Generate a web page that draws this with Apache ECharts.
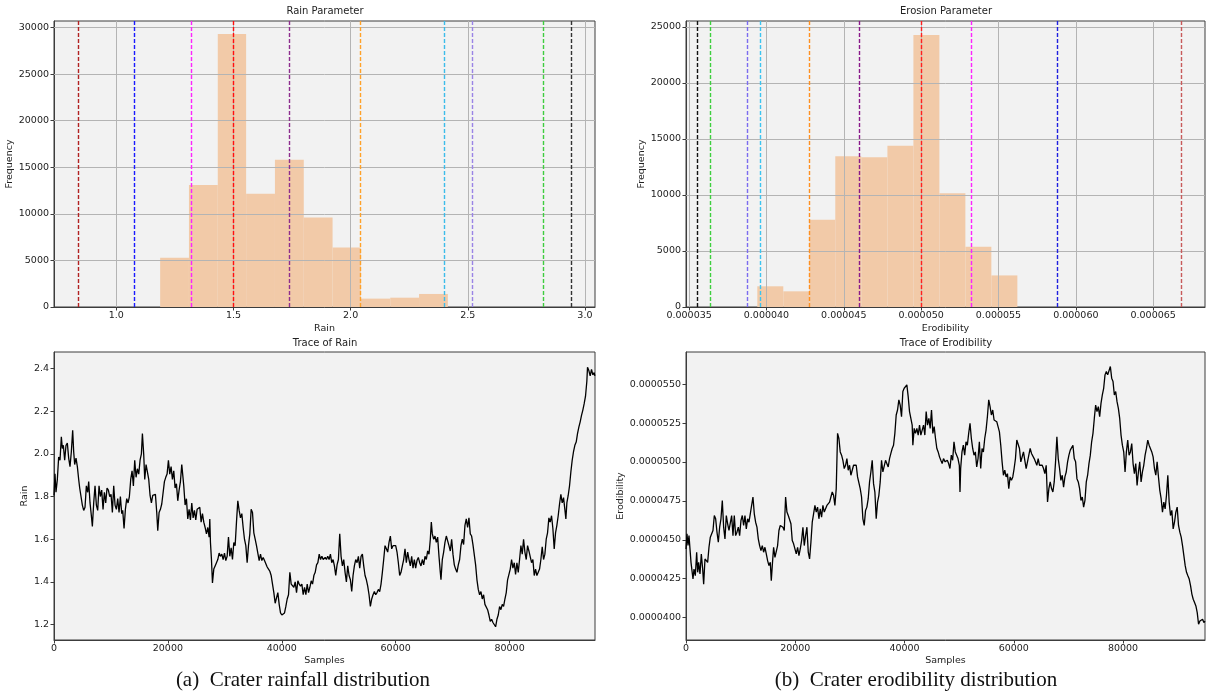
<!DOCTYPE html>
<html>
<head>
<meta charset="utf-8">
<title>Crater rainfall and erodibility distributions</title>
<script src="https://cdn.jsdelivr.net/npm/echarts@6/dist/echarts.min.js"></script>
<style>
  html, body { margin: 0; padding: 0; background: #ffffff; }
  #chart { width: 1206px; height: 698px; }
</style>
</head>
<body>
<div id="chart"></div>
<script>
// ---------------- Histogram data ----------------
const rainBinEdges = [1.187, 1.310, 1.433, 1.554, 1.677, 1.800, 1.923, 2.044, 2.169, 2.292, 2.415];
const rainCounts = [5300, 13100, 29300, 12150, 15800, 9600, 6400, 900, 1000, 1400];
const rainMarkers = [0.838, 1.078, 1.320, 1.500, 1.740, 2.040, 2.401, 2.520, 2.823, 2.942];
const rainMarkerColors = ['#b22222', '#1a1aff', '#ff22ff', '#ff1010', '#8e2e8e', '#ffa229', '#3cbcea', '#9a84e6', '#3fcc3f', '#333333'];

const erosionBinEdges = [3.941e-5, 4.109e-5, 4.277e-5, 4.445e-5, 4.613e-5, 4.782e-5, 4.950e-5, 5.118e-5, 5.286e-5, 5.454e-5, 5.622e-5];
const erosionCounts = [1850, 1400, 7800, 13450, 13360, 14400, 24290, 10150, 5370, 2820];
const erosionMarkers = [3.555e-5, 3.637e-5, 3.878e-5, 3.957e-5, 4.277e-5, 4.599e-5, 4.999e-5, 5.321e-5, 5.881e-5, 6.684e-5];
const erosionMarkerColors = ['#111111', '#3fcf3f', '#7c6cf0', '#3cc4f0', '#ff9020', '#8a1a8a', '#ff2020', '#ff22ff', '#2020e0', '#c85a5a'];

// ---------------- Tick labels ----------------
const rainTicks = [1.0, 1.5, 2.0, 2.5, 3.0];
const rainFreqTicks = [0, 5000, 10000, 15000, 20000, 25000, 30000];
const erosionTicks = [0.000035, 0.000040, 0.000045, 0.000050, 0.000055, 0.000060, 0.000065];
const erosionFreqTicks = [0, 5000, 10000, 15000, 20000, 25000];
const sampleTicks = [0, 20000, 40000, 60000, 80000];
const rainTraceTicks = [1.2, 1.4, 1.6, 1.8, 2.0, 2.2, 2.4];
const erodTraceTicks = [0.0000400, 0.0000425, 0.0000450, 0.0000475, 0.0000500, 0.0000525, 0.0000550];

// ---------------- Trace data: [sample, value] ----------------
const rainTrace = [
[0,1.805],[176,1.907],[351,1.82],[586,1.88],[820,1.985],[1054,1.97],[1289,2.08],[1465,2.025],[1640,2.04],[1875,1.97],
[2109,2.04],[2343,2.05],[2578,1.98],[2812,1.94],[3046,2.01],[3280,2.11],[3456,2.01],[3632,1.95],[3866,1.98],[4101,1.94],
[4335,1.88],[4511,1.84],[4745,1.845],[4979,1.76],[5214,1.735],[5448,1.75],[5682,1.85],[5917,1.82],[6092,1.87],[6327,1.77],
[6561,1.71],[6737,1.66],[6971,1.77],[7205,1.85],[7440,1.76],[7674,1.735],[7908,1.85],[8143,1.80],[8377,1.83],[8611,1.74],
[8846,1.82],[9080,1.77],[9314,1.84],[9549,1.83],[9783,1.80],[10017,1.81],[10252,1.725],[10486,1.85],[10720,1.76],[10954,1.74],
[11189,1.79],[11423,1.725],[11657,1.80],[11892,1.72],[12067,1.735],[12302,1.65],[12536,1.74],[12770,1.79],[13005,1.77],[13239,1.80],
[13473,1.88],[13708,1.92],[13942,1.85],[14176,1.97],[14411,1.89],[14645,1.93],[14879,1.905],[15114,1.97],[15348,2.00],[15524,2.095],
[15758,1.995],[15934,1.88],[16168,1.95],[16402,1.915],[16637,1.88],[16871,1.805],[17105,1.77],[17340,1.805],[17574,1.80],[17808,1.81],
[18043,1.725],[18218,1.64],[18453,1.725],[18687,1.74],[18921,1.765],[19156,1.77],[19390,1.87],[19624,1.89],[19859,1.905],[20093,1.97],
[20327,1.905],[20562,1.94],[20796,1.88],[21030,1.92],[21265,1.84],[21499,1.86],[21733,1.78],[21968,1.83],[22202,1.87],[22436,1.95],
[22670,1.95],[22788,1.85],[23022,1.76],[23256,1.79],[23491,1.695],[23725,1.74],[23959,1.69],[24194,1.77],[24428,1.70],[24662,1.735],
[24897,1.69],[25131,1.74],[25365,1.735],[25600,1.75],[25834,1.68],[26068,1.72],[26303,1.68],[26537,1.655],[26771,1.625],[27006,1.655],
[27240,1.61],[27357,1.695],[27474,1.585],[27650,1.505],[27826,1.395],[28060,1.46],[28294,1.475],[28529,1.49],[28763,1.505],[28997,1.535],
[29232,1.52],[29466,1.53],[29700,1.505],[29935,1.535],[30169,1.50],[30403,1.52],[30638,1.61],[30872,1.52],[31106,1.56],[31340,1.505],
[31575,1.585],[31809,1.57],[32043,1.68],[32278,1.78],[32512,1.735],[32746,1.70],[32981,1.72],[33215,1.655],[33449,1.60],[33684,1.57],
[33918,1.49],[34152,1.57],[34387,1.625],[34621,1.74],[34855,1.725],[35090,1.63],[35324,1.60],[35558,1.57],[35793,1.575],[36027,1.50],
[36261,1.53],[36496,1.50],[36730,1.515],[36964,1.50],[37199,1.505],[37433,1.47],[37667,1.46],[37901,1.45],[38136,1.43],[38370,1.39],
[38604,1.35],[38839,1.30],[39073,1.325],[39307,1.35],[39542,1.295],[39776,1.255],[40010,1.245],[40245,1.245],[40479,1.255],[40713,1.285],
[40948,1.32],[41182,1.34],[41416,1.445],[41651,1.39],[41885,1.39],[42119,1.375],[42354,1.40],[42588,1.35],[42822,1.405],[43057,1.39],
[43291,1.38],[43525,1.39],[43760,1.34],[43994,1.375],[44228,1.34],[44463,1.39],[44697,1.35],[44931,1.375],[45166,1.405],[45400,1.39],
[45634,1.43],[45868,1.445],[46103,1.48],[46337,1.49],[46571,1.53],[46806,1.505],[47040,1.52],[47274,1.505],[47626,1.515],
[47837,1.505],[48071,1.52],[48305,1.505],[48538,1.53],[48772,1.49],[49006,1.505],[49240,1.475],[49474,1.43],[49708,1.48],[49942,1.505],
[50176,1.625],[50410,1.52],[50644,1.475],[50878,1.505],[51112,1.445],[51345,1.40],[51579,1.475],[51813,1.43],[52047,1.41],[52281,1.355],
[52515,1.43],[52749,1.475],[52983,1.505],[53217,1.49],[53451,1.52],[53685,1.465],[53919,1.52],[54153,1.53],[54387,1.475],[54620,1.43],
[54854,1.41],[55088,1.38],[55322,1.34],[55556,1.285],[55790,1.32],[56024,1.34],[56258,1.355],[56492,1.34],[56726,1.35],[56960,1.365],
[57193,1.355],[57427,1.39],[57661,1.445],[57895,1.505],[58129,1.57],[58363,1.555],[58597,1.54],[58831,1.585],[59065,1.615],[59299,1.555],
[59533,1.57],[59767,1.565],[60001,1.57],[60234,1.54],[60468,1.49],[60702,1.43],[60936,1.445],[61170,1.475],[61404,1.505],[61638,1.555],
[61872,1.49],[62106,1.54],[62340,1.505],[62574,1.475],[62808,1.52],[63041,1.465],[63275,1.505],[63509,1.465],[63743,1.50],[63977,1.515],
[64211,1.49],[64445,1.475],[64679,1.505],[64913,1.48],[65147,1.52],[65381,1.505],[65615,1.545],[65849,1.53],[66082,1.60],[66258,1.68],
[66433,1.625],[66668,1.60],[66901,1.615],[67135,1.585],[67369,1.61],[67603,1.52],[67837,1.445],[67954,1.41],[68188,1.505],[68422,1.54],
[68656,1.585],[68890,1.615],[69123,1.61],[69357,1.57],[69591,1.545],[69825,1.60],[70059,1.53],[70293,1.48],[70527,1.46],[70761,1.445],
[70995,1.48],[71229,1.505],[71463,1.57],[71697,1.60],[71930,1.575],[72164,1.665],[72398,1.695],[72632,1.655],[72866,1.70],[73100,1.625],
[73334,1.615],[73568,1.575],[73802,1.57],[74036,1.48],[74270,1.41],[74504,1.365],[74737,1.34],[74971,1.355],[75205,1.32],[75439,1.34],
[75673,1.295],[75907,1.30],[76141,1.27],[76375,1.245],[76609,1.215],[76843,1.225],[77077,1.21],[77311,1.215],[77545,1.19],[77778,1.225],
[78012,1.245],[78246,1.285],[78480,1.27],[78714,1.295],[78948,1.285],[79182,1.32],[79416,1.35],[79650,1.41],[79884,1.41],[80118,1.46],
[80352,1.505],[80586,1.465],[80819,1.49],[81053,1.435],[81287,1.49],[81521,1.445],[81755,1.505],[81989,1.57],[82223,1.53],[82457,1.60],
[82691,1.54],[82925,1.505],[83159,1.57],[83393,1.545],[83626,1.54],[83860,1.49],[84094,1.505],[84328,1.43],[84562,1.46],[84796,1.43],
[85030,1.445],[85264,1.46],[85498,1.505],[85732,1.565],[85966,1.505],[86200,1.53],[86434,1.60],[86667,1.63],[86901,1.70],[87135,1.68],
[87369,1.71],[87603,1.65],[87837,1.555],[88071,1.63],[88305,1.665],[88539,1.71],[88773,1.765],[89007,1.81],[89241,1.77],[89475,1.795],
[89708,1.74],[89884,1.695],[90059,1.77],[90293,1.805],[90527,1.85],[90761,1.915],[90995,1.97],[91229,2.01],[91463,2.04],[91697,2.055],
[91930,2.095],[92164,2.125],[92398,2.15],[92632,2.18],[92866,2.205],[93100,2.235],[93334,2.27],[93568,2.34],[93685,2.405],[93919,2.39],
[94153,2.365],[94387,2.395],[94621,2.37],[94855,2.38],[94972,2.365]
];

const erodibilityTrace = [
[0,4.441e-5],[183,4.538e-5],[366,4.463e-5],[549,4.527e-5],[732,4.441e-5],[915,4.355e-5],[1098,4.344e-5],[1280,4.248e-5],[1463,4.312e-5],[1707,4.269e-5],
[1951,4.420e-5],[2134,4.291e-5],[2317,4.355e-5],[2561,4.280e-5],[2805,4.409e-5],[3049,4.312e-5],[3232,4.215e-5],[3476,4.377e-5],[3720,4.387e-5],[3963,4.355e-5],
[4207,4.452e-5],[4451,4.517e-5],[4695,4.527e-5],[4939,4.560e-5],[5183,4.656e-5],[5427,4.635e-5],[5671,4.549e-5],[5915,4.484e-5],[6159,4.581e-5],[6402,4.635e-5],
[6646,4.753e-5],[6890,4.581e-5],[7134,4.506e-5],[7378,4.656e-5],[7622,4.603e-5],[7866,4.560e-5],[8110,4.549e-5],[8354,4.656e-5],[8598,4.527e-5],[8841,4.656e-5],
[9085,4.527e-5],[9329,4.549e-5],[9573,4.581e-5],[9817,4.527e-5],[10061,4.624e-5],[10305,4.656e-5],[10549,4.592e-5],[10793,4.656e-5],[11037,4.570e-5],[11280,4.635e-5],
[11524,4.613e-5],[11768,4.667e-5],[12012,4.678e-5],[12256,4.775e-5],[12500,4.667e-5],[12744,4.613e-5],[12988,4.581e-5],[13232,4.506e-5],[13476,4.463e-5],[13720,4.430e-5],
[13963,4.463e-5],[14207,4.420e-5],[14451,4.452e-5],[14695,4.409e-5],[14939,4.366e-5],[15183,4.334e-5],[15427,4.355e-5],[15610,4.237e-5],[15793,4.334e-5],[16037,4.452e-5],
[16280,4.387e-5],[16524,4.377e-5],[16768,4.463e-5],[17012,4.560e-5],[17256,4.592e-5],[17500,4.581e-5],[17744,4.581e-5],[17988,4.560e-5],[18232,4.775e-5],[18476,4.678e-5],
[18720,4.656e-5],[18963,4.667e-5],[19207,4.603e-5],[19451,4.495e-5],[19695,4.474e-5],[19939,4.463e-5],[20183,4.409e-5],[20427,4.452e-5],[20671,4.398e-5],[20915,4.441e-5],
[21159,4.495e-5],[21402,4.581e-5],[21646,4.463e-5],[21890,4.527e-5],[22134,4.581e-5],[22378,4.420e-5],[22622,4.377e-5],[22866,4.484e-5],[23110,4.613e-5],[23354,4.667e-5],
[23598,4.721e-5],[23841,4.678e-5],[24085,4.710e-5],[24329,4.635e-5],[24573,4.699e-5],[24817,4.646e-5],[25061,4.721e-5],[25305,4.678e-5],[25549,4.689e-5],[25793,4.721e-5],
[26037,4.710e-5],[26280,4.742e-5],[26524,4.775e-5],[26768,4.807e-5],[27012,4.786e-5],[27256,4.721e-5],[27500,4.829e-5],[27744,5.184e-5],[27988,5.151e-5],[28232,5.065e-5],
[28476,5.044e-5],[28720,5.011e-5],[28963,4.958e-5],[29207,4.979e-5],[29451,5.022e-5],[29695,4.947e-5],[29939,4.979e-5],[30183,4.915e-5],[30427,4.925e-5],[30671,4.979e-5],
[30915,4.990e-5],[31159,4.979e-5],[31402,4.904e-5],[31646,4.893e-5],[31890,4.829e-5],[32134,4.775e-5],[32378,4.635e-5],[32622,4.592e-5],[32866,4.689e-5],[33110,4.710e-5],
[33354,4.764e-5],[33598,4.872e-5],[33841,4.936e-5],[34085,5.011e-5],[34329,4.861e-5],[34573,4.807e-5],[34817,4.635e-5],[35061,4.742e-5],[35305,4.786e-5],[35549,4.872e-5],
[35793,5.011e-5],[36037,4.936e-5],[36280,4.925e-5],[36524,5.011e-5],[36768,5.001e-5],[37012,4.968e-5],[37256,5.022e-5],[37500,5.055e-5],[37744,5.087e-5],[37988,5.108e-5],
[38232,5.184e-5],[38476,5.302e-5],[38720,5.334e-5],[38963,5.399e-5],[39207,5.366e-5],[39451,5.291e-5],[39695,5.453e-5],[39939,5.474e-5],[40183,5.485e-5],[40427,5.496e-5],
[40671,5.420e-5],[40915,5.324e-5],[41159,5.324e-5],[41402,5.237e-5],[41524,5.108e-5],[41768,5.216e-5],[42012,5.184e-5],[42256,5.216e-5],[42500,5.173e-5],[42744,5.237e-5],
[42988,5.173e-5],[43232,5.184e-5],[43476,5.237e-5],[43720,5.173e-5],[43963,5.324e-5],[44207,5.237e-5],[44451,5.280e-5],[44695,5.216e-5],[44939,5.334e-5],[45183,5.184e-5],
[45427,5.227e-5],[45671,5.151e-5],[45915,5.087e-5],[46159,5.065e-5],[46402,5.033e-5],[46646,5.011e-5],[46890,4.990e-5],[47134,5.022e-5],[47439,5.001e-5],
[47584,5.001e-5],[47829,5.011e-5],[48073,4.990e-5],[48318,4.958e-5],[48563,5.044e-5],[48807,5.011e-5],[49052,5.130e-5],[49297,5.065e-5],[49541,5.044e-5],[49786,5.022e-5],
[50031,4.979e-5],[50153,4.807e-5],[50275,4.958e-5],[50520,5.065e-5],[50765,5.108e-5],[51009,5.044e-5],[51254,5.130e-5],[51499,5.108e-5],[51743,5.184e-5],[51988,5.248e-5],
[52233,5.151e-5],[52477,5.087e-5],[52722,5.044e-5],[52966,5.065e-5],[53211,4.968e-5],[53456,5.022e-5],[53700,5.130e-5],[53945,4.958e-5],[54190,5.087e-5],[54434,5.065e-5],
[54679,5.151e-5],[54924,5.205e-5],[55168,5.291e-5],[55413,5.399e-5],[55657,5.356e-5],[55902,5.302e-5],[56147,5.334e-5],[56391,5.270e-5],[56636,5.270e-5],[56881,5.259e-5],
[57125,5.248e-5],[57370,5.194e-5],[57615,5.108e-5],[57859,5.001e-5],[58104,4.915e-5],[58349,4.947e-5],[58593,4.904e-5],[58838,4.925e-5],[59082,4.829e-5],[59327,4.904e-5],
[59572,4.882e-5],[59816,4.904e-5],[60061,4.958e-5],[60306,5.022e-5],[60550,5.141e-5],[60795,5.130e-5],[61040,5.087e-5],[61284,5.001e-5],[61529,5.033e-5],[61774,5.065e-5],
[62018,5.011e-5],[62263,4.958e-5],[62507,5.001e-5],[62752,5.044e-5],[62997,5.087e-5],[63241,5.055e-5],[63486,5.044e-5],[63731,5.022e-5],[63975,5.033e-5],[64220,4.979e-5],
[64465,5.022e-5],[64709,4.979e-5],[64954,4.990e-5],[65199,4.979e-5],[65443,4.958e-5],[65688,4.925e-5],[65932,4.979e-5],[66177,4.743e-5],[66422,4.829e-5],[66666,4.872e-5],
[66911,4.829e-5],[67156,4.807e-5],[67400,4.872e-5],[67645,5.001e-5],[67890,5.162e-5],[68134,5.022e-5],[68379,4.958e-5],[68623,4.882e-5],[68868,4.915e-5],[69113,4.839e-5],
[69357,4.904e-5],[69602,4.936e-5],[69847,5.001e-5],[70091,5.044e-5],[70336,5.076e-5],[70581,5.065e-5],[70825,5.108e-5],[71070,5.022e-5],[71315,5.001e-5],[71559,4.893e-5],
[71804,4.872e-5],[72048,4.829e-5],[72293,4.753e-5],[72538,4.775e-5],[72782,4.710e-5],[73027,4.753e-5],[73272,4.872e-5],[73516,4.915e-5],[73761,4.990e-5],[74006,5.044e-5],
[74250,5.130e-5],[74495,5.184e-5],[74740,5.280e-5],[74984,5.366e-5],[75229,5.324e-5],[75473,5.356e-5],[75718,5.291e-5],[75963,5.377e-5],[76207,5.431e-5],[76452,5.474e-5],
[76697,5.560e-5],[76941,5.582e-5],[77186,5.560e-5],[77431,5.549e-5],[77675,5.614e-5],[77920,5.539e-5],[78165,5.517e-5],[78409,5.431e-5],[78654,5.453e-5],[78898,5.388e-5],
[79143,5.345e-5],[79388,5.280e-5],[79632,5.173e-5],[79877,5.108e-5],[80122,5.065e-5],[80366,4.936e-5],[80611,5.065e-5],[80856,5.141e-5],[81100,5.044e-5],[81345,5.065e-5],
[81590,5.119e-5],[81834,4.990e-5],[82079,4.925e-5],[82323,4.990e-5],[82568,4.850e-5],[82813,4.936e-5],[83057,5.001e-5],[83302,4.872e-5],[83547,4.936e-5],[83791,4.979e-5],
[84036,5.044e-5],[84281,5.087e-5],[84525,5.141e-5],[84770,5.108e-5],[85015,5.119e-5],[85259,5.065e-5],[85504,5.033e-5],[85749,4.958e-5],[85993,4.915e-5],[86238,5.001e-5],
[86482,4.904e-5],[86727,4.818e-5],[86972,4.764e-5],[87216,4.678e-5],[87461,4.742e-5],[87706,4.699e-5],[87950,4.786e-5],[88195,4.915e-5],[88440,4.742e-5],[88684,4.656e-5],
[88929,4.689e-5],[89174,4.570e-5],[89418,4.613e-5],[89663,4.678e-5],[89907,4.710e-5],[90152,4.592e-5],[90397,4.549e-5],[90641,4.517e-5],[90886,4.463e-5],[91131,4.398e-5],
[91375,4.334e-5],[91620,4.291e-5],[91865,4.269e-5],[92109,4.248e-5],[92354,4.205e-5],[92599,4.151e-5],[92843,4.118e-5],[93088,4.097e-5],[93333,4.075e-5],[93577,4.032e-5],
[93822,3.957e-5],[94067,3.978e-5],[94311,3.968e-5],[94556,3.989e-5],[94801,3.968e-5],[94990,3.978e-5]
];

// ---------------- Styling helpers ----------------
const FONT = 'DejaVu Sans';
const INK = '#222222';
const SPINE = '#3c3c3c';
const GRIDLINE = '#b4b4b4';
const PLOT_BG = '#f2f2f2';
const BAR_FILL = '#f2caa8';

function gridBox(left, top, width, height) {
  return { left, top, width, height, show: true, backgroundColor: PLOT_BG,
           borderColor: SPINE, borderWidth: 1, containLabel: false };
}

function valueAxis(gridIndex, min, max, ticks, fmt, name, nameGap, isY) {
  return {
    type: 'value', gridIndex, min, max, scale: true,
    name, nameLocation: 'middle', nameGap,
    nameTextStyle: { fontFamily: FONT, fontSize: 9.5, color: INK },
    axisLine: { show: true, onZero: false, lineStyle: { color: SPINE, width: 1 } },
    axisTick: { show: true, length: 3.5, customValues: ticks, lineStyle: { color: SPINE, width: 1 } },
    axisLabel: { show: true, customValues: ticks, formatter: fmt, margin: isY ? 5 : 4,
                 fontFamily: FONT, fontSize: 9.5, color: INK },
    splitLine: { show: false }
  };
}

// histogram bars from bin edges + counts
function histData(edges, counts) {
  return counts.map((c, i) => [edges[i], edges[i + 1], c]);
}
function renderBin(params, api) {
  const a = api.coord([api.value(0), api.value(2)]);
  const b = api.coord([api.value(1), 0]);
  return {
    type: 'rect',
    shape: { x: a[0], y: a[1], width: b[0] - a[0], height: b[1] - a[1] },
    style: { fill: BAR_FILL }
  };
}

function gridLineSeries(axisIdx, xVals, yVals) {
  return {
    type: 'line', xAxisIndex: axisIdx, yAxisIndex: axisIdx, data: [], z: 1, silent: true,
    markLine: {
      silent: true, symbol: ['none', 'none'], animation: false, precision: 12,
      label: { show: false },
      lineStyle: { color: GRIDLINE, width: 1, type: 'solid' },
      data: xVals.map(v => ({ xAxis: v })).concat(yVals.map(v => ({ yAxis: v })))
    }
  };
}

// one dashed vertical reference line per series, each in its own colour
function markerSeries(axisIdx, values, colors) {
  return values.map((v, i) => ({
    type: 'line', xAxisIndex: axisIdx, yAxisIndex: axisIdx, data: [], z: 5, silent: true,
    color: colors[i],
    markLine: {
      silent: true, symbol: ['none', 'none'], animation: false, precision: 12,
      label: { show: false },
      lineStyle: { color: colors[i], width: 1.4, type: [4, 2], opacity: 1 },
      emphasis: { disabled: true },
      data: [{ xAxis: v }]
    }
  }));
}

function traceSeries(axisIdx, data) {
  return {
    type: 'line', xAxisIndex: axisIdx, yAxisIndex: axisIdx, data,
    showSymbol: false, symbol: 'none', sampling: null, z: 3,
    lineStyle: { color: '#000000', width: 1.3 }
  };
}

function title(text, x, y) {
  return { text, left: x, top: y, textAlign: 'center', padding: 0,
           textStyle: { fontFamily: FONT, fontSize: 10, fontWeight: 'normal', color: INK } };
}

const chart = echarts.init(document.getElementById('chart'), null, { renderer: 'canvas' });

chart.setOption({
  animation: false,
  backgroundColor: '#ffffff',
  title: [
    title('Rain Parameter', 325, 6),
    title('Erosion Parameter', 946, 6),
    title('Trace of Rain', 325, 338),
    title('Trace of Erodibility', 946, 338)
  ],
  grid: [
    gridBox(54, 21, 541, 286),
    gridBox(686, 21, 519, 286),
    gridBox(54, 352, 541, 288),
    gridBox(686, 352, 519, 288)
  ],
  xAxis: [
    valueAxis(0, 0.734, 3.043, rainTicks, v => v.toFixed(1), 'Rain', 17, false),
    valueAxis(1, 3.48e-5, 6.835e-5, erosionTicks, v => v.toFixed(6), 'Erodibility', 17, false),
    valueAxis(2, 0, 95000, sampleTicks, v => String(Math.round(v)), 'Samples', 16, false),
    valueAxis(3, 0, 95000, sampleTicks, v => String(Math.round(v)), 'Samples', 16, false)
  ],
  yAxis: [
    valueAxis(0, 0, 30700, rainFreqTicks, v => String(Math.round(v)), 'Frequency', 36, true),
    valueAxis(1, 0, 25536, erosionFreqTicks, v => String(Math.round(v)), 'Frequency', 36, true),
    valueAxis(2, 1.128, 2.477, rainTraceTicks, v => v.toFixed(1), 'Rain', 22, true),
    valueAxis(3, 3.856e-5, 5.707e-5, erodTraceTicks, v => v.toFixed(7), 'Erodibility', 56, true)
  ],
  graphic: [
    { type: 'text', x: 303, y: 680, style: { text: '(a)  Crater rainfall distribution', fill: '#111',
      font: '21px "Liberation Serif", "Times New Roman", serif', textAlign: 'center', textVerticalAlign: 'middle' } },
    { type: 'text', x: 916, y: 680, style: { text: '(b)  Crater erodibility distribution', fill: '#111',
      font: '21px "Liberation Serif", "Times New Roman", serif', textAlign: 'center', textVerticalAlign: 'middle' } }
  ],
  series: [
    gridLineSeries(0, rainTicks, rainFreqTicks.slice(1)),
    {
      type: 'custom', xAxisIndex: 0, yAxisIndex: 0, z: 2, silent: true,
      renderItem: renderBin, encode: { x: [0, 1], y: 2 },
      data: histData(rainBinEdges, rainCounts)
    },
    ...markerSeries(0, rainMarkers, rainMarkerColors),

    gridLineSeries(1, erosionTicks, erosionFreqTicks.slice(1)),
    {
      type: 'custom', xAxisIndex: 1, yAxisIndex: 1, z: 2, silent: true,
      renderItem: renderBin, encode: { x: [0, 1], y: 2 },
      data: histData(erosionBinEdges, erosionCounts)
    },
    ...markerSeries(1, erosionMarkers, erosionMarkerColors),

    traceSeries(2, rainTrace),
    traceSeries(3, erodibilityTrace)
  ]
});
</script>
</body>
</html>
